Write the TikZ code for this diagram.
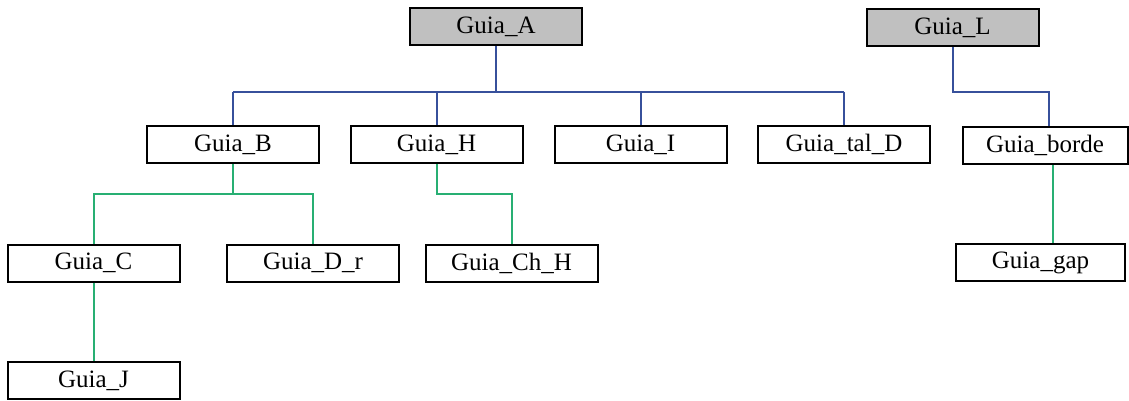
\documentclass[tikz,border=0pt]{standalone}
\usepackage{fontspec}
\setmainfont{Liberation Serif}
\definecolor{lblue}{RGB}{55,80,155}
\definecolor{lgreen}{RGB}{40,175,115}
\definecolor{lgray}{RGB}{192,192,192}
\begin{document}
\begin{tikzpicture}[x=1pt,y=-1pt,
  box/.style={draw=black,line width=2pt,minimum width=172pt,minimum height=37pt,inner sep=0pt,font=\fontsize{25}{28}\selectfont},
  topbox/.style={box,fill=lgray},
  bl/.style={draw=lblue,line width=2pt},
  gl/.style={draw=lgreen,line width=2pt}]
\useasboundingbox (0,0) rectangle (1129,401);
\node[topbox] (A) at (496,26.5) {Guia\_A};
\node[topbox] (L) at (952.5,27.5) {Guia\_L};
\node[box] (B) at (233,144.5) {Guia\_B};
\node[box] (H) at (436.5,144.5) {Guia\_H};
\node[box] (I) at (640.5,144.5) {Guia\_I};
\node[box] (T) at (844,144.5) {Guia\_tal\_D};
\node[box,minimum width=165pt] (Bo) at (1045,145.5) {Guia\_borde};
\node[box] (C) at (93.5,263) {Guia\_C};
\node[box] (D) at (313,263) {Guia\_D\_r};
\node[box] (Ch) at (511.5,263) {Guia\_Ch\_H};
\node[box,minimum width=169pt] (G) at (1040.5,262.5) {Guia\_gap};
\node[box] (J) at (93.5,380.5) {Guia\_J};
% blue connectors
\draw[bl] (A.south) -- (A.south |- 0,92);
\draw[bl] (B.north |- 0,92) -- (T.north |- 0,92);
\foreach \n in {B,H,I,T} \draw[bl] (\n.north |- 0,92) -- (\n.north);
\draw[bl] (L.south) -- (L.south |- 0,92) -- (1049,92) coordinate (lb) -- (lb |- Bo.north);
% green connectors
\draw[gl] (B.south) -- (B.south |- 0,194) coordinate (bm);
\draw[gl] (C.north) -- (C.north |- 0,194) -- (D.north |- 0,194) -- (D.north);
\draw[gl] (H.south) -- (H.south |- 0,194) -- (Ch.north |- 0,194) -- (Ch.north);
\coordinate (gx) at (1053,0);
\draw[gl] (Bo.south -| gx) -- (G.north -| gx);
\draw[gl] (C.south) -- (J.north);
\end{tikzpicture}
\end{document}
